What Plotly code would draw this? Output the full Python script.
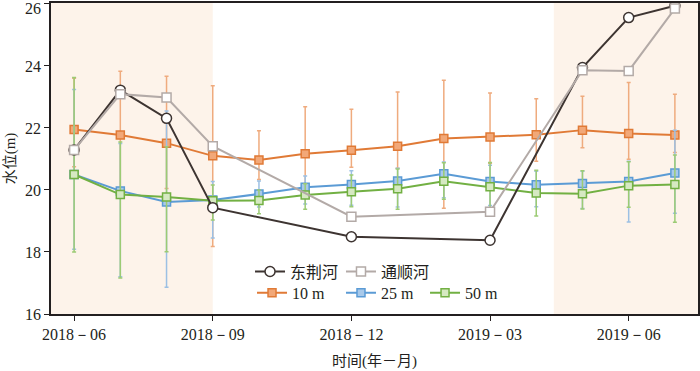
import plotly.graph_objects as go

# months on the x axis (index 0 = 2018-06)
months = ["2018-06", "2018-07", "2018-08", "2018-09", "2018-10", "2018-11", "2018-12",
          "2019-01", "2019-02", "2019-03", "2019-04", "2019-05", "2019-06", "2019-07"]
tick_idx = [0, 3, 6, 9, 12]
tick_text = ["2018－06", "2018－09", "2018－12", "2019－03", "2019－06"]
y_ticks = [16, 18, 20, 22, 24, 26]
y_tick_text = ["16", "18", "20", "22", "24", ""]  # the top label is placed by hand below

# river stage, sampled only in some months
river_idx = [0, 1, 2, 3, 6, 9, 11, 12, 13]
dongjing = [21.29, 23.22, 22.31, 19.43, 18.49, 18.38, 23.95, 25.56, 25.94]
tongshun = [21.29, 23.09, 22.98, 21.41, 19.14, 19.30, 23.86, 23.84, 25.85]

# groundwater level at depth: mean, max, min
d10_mean = [21.95, 21.77, 21.51, 21.10, 20.97, 21.17, 21.28, 21.41, 21.66, 21.71, 21.78, 21.93, 21.82, 21.77]
d10_max = [23.60, 23.83, 23.67, 23.36, 21.91, 22.68, 22.60, 23.16, 23.54, 23.13, 22.94, 23.02, 23.47, 23.09]
d10_min = [20.75, 20.05, 20.05, 18.18, 20.34, 20.00, 20.73, 20.70, 19.41, 20.86, 20.93, 21.36, 20.99, 21.21]

d25_mean = [20.50, 19.97, 19.61, 19.68, 19.87, 20.09, 20.18, 20.29, 20.52, 20.27, 20.17, 20.21, 20.27, 20.55]
d25_max = [23.24, 21.50, 22.55, 20.27, 20.29, 20.45, 20.62, 20.70, 20.90, 20.80, 20.60, 20.60, 20.93, 21.93]
d25_min = [18.09, 17.20, 16.86, 18.45, 19.45, 19.55, 19.51, 19.45, 19.75, 19.50, 19.46, 19.40, 18.97, 19.25]

d50_mean = [20.50, 19.85, 19.77, 19.65, 19.66, 19.84, 19.94, 20.04, 20.28, 20.10, 19.90, 19.88, 20.14, 20.18]
d50_max = [23.63, 21.55, 21.39, 20.16, 20.00, 20.20, 20.48, 20.68, 20.88, 20.89, 20.64, 20.62, 20.91, 21.13]
d50_min = [18.00, 17.16, 18.01, 19.03, 19.23, 19.38, 19.46, 19.38, 19.70, 19.36, 19.16, 19.39, 19.44, 18.96]

# shaded periods (month index)
shade_spans = [(-0.5, 3.0), (10.38, 13.5)]

FONT = "'Liberation Serif', 'Times New Roman', serif"
CJK = "'Liberation Serif', 'Noto Sans CJK SC', serif"
INK = "#231f20"

x_all = list(range(len(months)))
fig = go.Figure()

for a, b in shade_spans:
    fig.add_vrect(x0=a, x1=b, fillcolor="#fdf3ea", line_width=0, layer="below")

# one legend box per entry so the two rows line up like the original
depth_series = [
    ("10 m", d10_mean, d10_max, d10_min, "#e07a36", "#f2a878", "#efab7e", "legend3"),
    ("25 m", d25_mean, d25_max, d25_min, "#5b9bd5", "#a8c9ea", "#9cc0e4", "legend4"),
    ("50 m", d50_mean, d50_max, d50_min, "#72b043", "#d6e9c2", "#9ccb74", "legend5"),
]
for name, mean, hi, lo, col, fill, ecol, leg in depth_series:
    fig.add_trace(go.Scatter(
        x=x_all, y=mean, name=name, legend=leg, mode="lines+markers",
        line=dict(color=col, width=2),
        marker=dict(symbol="square", size=8, color=fill, line=dict(color=col, width=1.5)),
        error_y=dict(type="data", symmetric=False,
                     array=[h - m for h, m in zip(hi, mean)],
                     arrayminus=[m - l for m, l in zip(mean, lo)],
                     color=ecol, thickness=1.5, width=2),
    ))

fig.add_trace(go.Scatter(
    x=river_idx, y=dongjing, name="东荆河", legend="legend", mode="lines+markers",
    line=dict(color="#3d3431", width=2),
    marker=dict(symbol="circle", size=10, color="white", line=dict(color="#3d3431", width=1.5)),
))
fig.add_trace(go.Scatter(
    x=river_idx, y=tongshun, name="通顺河", legend="legend2", mode="lines+markers",
    line=dict(color="#b3aaa7", width=2),
    marker=dict(symbol="square", size=9, color="white", line=dict(color="#b3aaa7", width=1.5)),
))


def leg(x, y, family=FONT):
    return dict(orientation="h", x=x, y=y, xanchor="left", yanchor="middle",
                bgcolor="rgba(0,0,0,0)", font=dict(size=16, family=family))


fig.update_layout(
    width=700, height=371,
    margin=dict(l=51, r=2, t=3, b=57),
    paper_bgcolor="white", plot_bgcolor="white",
    font=dict(family=FONT, size=16, color=INK),
    showlegend=True,
    legend=leg(0.3076, 0.1364, CJK),
    legend2=leg(0.4482, 0.1364, CJK),
    legend3=leg(0.3107, 0.0684),
    legend4=leg(0.4482, 0.0684),
    legend5=leg(0.5781, 0.0684),
)

fig.add_annotation(text="26", xref="paper", yref="y", x=0, y=26,
                   xanchor="right", yanchor="middle", xshift=-8, yshift=-5,
                   showarrow=False, font=dict(size=16, family=FONT, color=INK))

fig.update_xaxes(
    range=[-0.5, 13.5], tickvals=tick_idx, ticktext=tick_text,
    showgrid=False, zeroline=False, showline=True, linecolor=INK, linewidth=1.5,
    mirror=True, ticks="outside", ticklen=5, tickcolor=INK, automargin=False,
    title=dict(text="时间(年－月)", font=dict(size=15, family=CJK), standoff=14),
)
fig.update_yaxes(
    range=[16, 26.03], tickvals=y_ticks, ticktext=y_tick_text,
    showgrid=False, zeroline=False, showline=True, linecolor=INK, linewidth=1.5,
    mirror=True, ticks="outside", ticklen=5, tickcolor=INK, automargin=False,
    title=dict(text="水位(m)", font=dict(size=15, family=CJK), standoff=6),
)

fig.write_html("out.html", config={"displayModeBar": False},
               post_script="document.body.style.margin='0';")
